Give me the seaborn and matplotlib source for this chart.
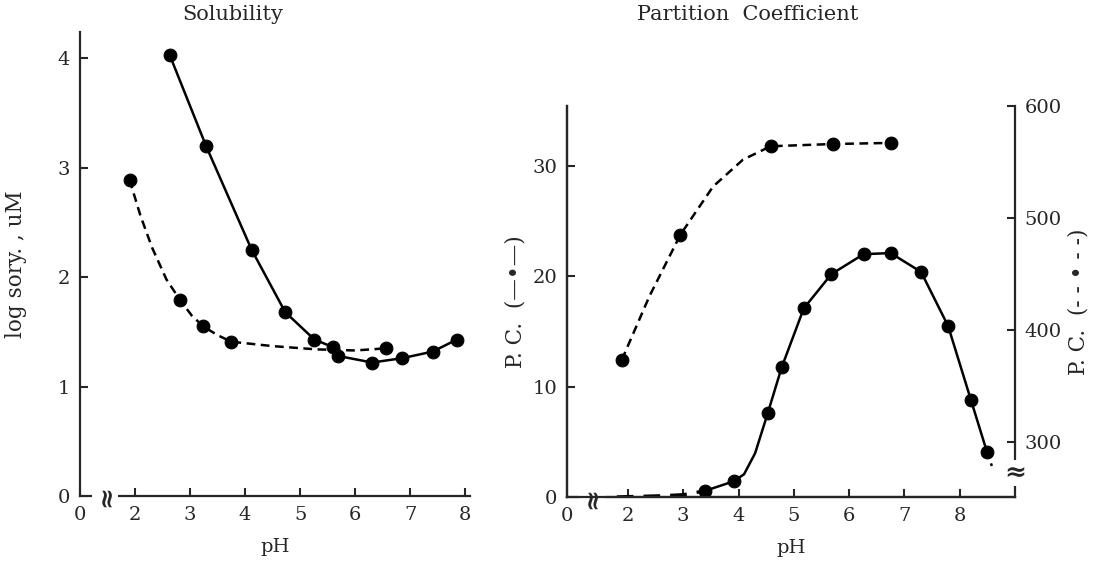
import numpy as np
import seaborn as sns
import matplotlib.pyplot as plt
import matplotlib.transforms as mtransforms

sns.set_style("ticks")
plt.rcParams['font.family'] = ['DejaVu Serif', 'DejaVu Sans']
plt.rcParams['axes.linewidth'] = 1.6

# Solubility panel (log sory., uM vs pH)
sol_solid_ph = [2.63, 3.29, 4.12, 4.73, 5.26, 5.60, 5.69, 6.31, 6.86, 7.41, 7.85]
sol_solid_val = [4.03, 3.20, 2.25, 1.68, 1.43, 1.36, 1.28, 1.22, 1.26, 1.32, 1.43]
sol_dash_ph = [1.90, 2.82, 3.24, 3.75, 6.57]
sol_dash_val = [2.89, 1.79, 1.55, 1.41, 1.35]
# dashed curve
sol_dash_curve_ph = [1.90, 2.10, 2.31, 2.57, 2.82, 3.03, 3.24, 3.50, 3.75, 4.5, 5.3, 6.0, 6.57]
sol_dash_curve_val = [2.89, 2.56, 2.27, 1.98, 1.79, 1.65, 1.55, 1.47, 1.41, 1.37, 1.34, 1.33, 1.35]

# Partition coefficient panel
pc_solid_ph = [3.39, 3.91, 4.53, 4.78, 5.18, 5.68, 6.26, 6.75, 7.30, 7.79, 8.20, 8.49]
pc_solid_val = [0.59, 1.46, 7.65, 11.76, 17.1, 20.2, 22.0, 22.1, 20.4, 15.5, 8.85, 4.15]
pc_solid_curve_ph = [3.39, 3.91, 4.10, 4.30, 4.53, 4.78, 5.18, 5.68, 6.26, 6.75, 7.30, 7.79, 8.20, 8.49]
pc_solid_curve_val = [0.59, 1.46, 2.1, 4.0, 7.65, 11.76, 17.1, 20.2, 22.0, 22.1, 20.4, 15.5, 8.85, 4.15]
pc_low_ph = [1.8, 2.6, 3.0, 3.39]
pc_low_val = [0.05, 0.15, 0.25, 0.59]
pc_tail_ph = [8.49, 8.58]
pc_tail_val = [4.15, 2.85]

pc_dash_ph = [1.89, 2.95, 4.58, 5.70, 6.76]
pc_dash_val = [373, 485, 564, 566, 567]
pc_dash_curve_ph = [1.89, 2.39, 2.95, 3.54, 4.08, 4.58, 5.70, 6.76]
pc_dash_curve_val = [373, 430, 485, 528, 552, 564, 566, 567]

sol_xticks = [2, 3, 4, 5, 6, 7, 8]
sol_yticks = [0, 1, 2, 3, 4]
pc_yticks = [0, 10, 20, 30]
pc_right_yticks = [300, 400, 500, 600]

fs = 14
dash = (3.5, 2.2)
lw = 1.8

fig = plt.figure(figsize=(10.93, 5.62), dpi=100)
ax1 = fig.add_axes([0.0732, 0.1174, 0.3564, 0.8256])
ax2 = fig.add_axes([0.5188, 0.1148, 0.4099, 0.6966])
ax3 = ax2.twinx()

# left panel
sns.lineplot(x=sol_solid_ph, y=sol_solid_val, ax=ax1, color='black', lw=lw)
sns.lineplot(x=sol_dash_curve_ph, y=sol_dash_curve_val, ax=ax1, color='black', lw=lw, linestyle=(0, dash))
sns.scatterplot(x=sol_solid_ph + sol_dash_ph, y=sol_solid_val + sol_dash_val, ax=ax1,
                color='black', s=85, edgecolor='black', zorder=3)

x0 = 1.0
ax1.set_xlim(x0, 8.08)
ax1.set_ylim(0, 4.24)
ax1.set_xticks([x0] + sol_xticks)
ax1.set_xticklabels(['0'] + [str(t) for t in sol_xticks])
ax1.xaxis.get_major_ticks()[0].tick1line.set_visible(False)
ax1.set_yticks(sol_yticks)
ax1.set_yticklabels([str(t) for t in sol_yticks])
ax1.yaxis.get_major_ticks()[0].tick1line.set_visible(False)
ax1.tick_params(direction='in', length=6, width=1.5, labelsize=fs, pad=7)
sns.despine(ax=ax1)
ax1.set_xlabel('pH', fontsize=fs, labelpad=10)
ax1.set_ylabel('log sory. , uM', fontsize=15.5, labelpad=22)
trans = mtransforms.blended_transform_factory(ax1.transData, ax1.transAxes)
ax1.text(1.46, 0, '≈', rotation=90, ha='center', va='center', fontsize=19, fontweight='bold',
         transform=trans, bbox=dict(facecolor='white', edgecolor='none', pad=0.3), clip_on=False)

# right panel
sns.lineplot(x=pc_solid_curve_ph, y=pc_solid_curve_val, ax=ax2, color='black', lw=lw)
sns.lineplot(x=pc_low_ph, y=pc_low_val, ax=ax2, color='black', lw=2.4, linestyle=(0, (5, 3)))
sns.lineplot(x=pc_tail_ph, y=pc_tail_val, ax=ax2, color='black', lw=lw, linestyle=(0, (3, 2)))
sns.scatterplot(x=pc_solid_ph, y=pc_solid_val, ax=ax2, color='black', s=85, edgecolor='black', zorder=3)

sns.lineplot(x=pc_dash_curve_ph, y=pc_dash_curve_val, ax=ax3, color='black', lw=lw, linestyle=(0, dash))
sns.scatterplot(x=pc_dash_ph, y=pc_dash_val, ax=ax3, color='black', s=85, edgecolor='black', zorder=3)

x0r = 0.9
ax2.set_xlim(x0r, 9.0)
ax2.set_ylim(0, 35.4)
ax3.set_ylim(250, 600)
ax2.set_xticks([x0r] + sol_xticks)
ax2.set_xticklabels(['0'] + [str(t) for t in sol_xticks])
ax2.xaxis.get_major_ticks()[0].tick1line.set_visible(False)
ax2.set_yticks(pc_yticks)
ax2.set_yticklabels([str(t) for t in pc_yticks])
ax2.yaxis.get_major_ticks()[0].tick1line.set_visible(False)
ax3.set_yticks(pc_right_yticks)
ax3.set_yticklabels([str(t) for t in pc_right_yticks])
for a in (ax2, ax3):
    a.tick_params(direction='in', length=6, width=1.5, labelsize=fs, pad=7)
    a.spines['top'].set_visible(False)
ax2.spines['right'].set_visible(False)
ax3.spines['right'].set_linewidth(1.6)
ax2.set_xlabel('pH', fontsize=fs, labelpad=10)
ax2.set_ylabel('P. C.  (—•—)', fontsize=15.5, labelpad=4)
ax3.set_ylabel('P. C.  (- - • - -)', fontsize=15.5, labelpad=4)

trans2 = mtransforms.blended_transform_factory(ax2.transData, ax2.transAxes)
ax2.text(1.35, 0, '≈', rotation=90, ha='center', va='center', fontsize=19, fontweight='bold',
         transform=trans2, bbox=dict(facecolor='white', edgecolor='none', pad=0.3), clip_on=False)
trans3 = mtransforms.blended_transform_factory(ax3.transAxes, ax3.transData)
ax3.text(1.0, 272, '≈', ha='center', va='center', fontsize=19, fontweight='bold',
         transform=trans3, bbox=dict(facecolor='white', edgecolor='none', pad=0.3), clip_on=False)

fig.text(233 / 1093, 1 - 15 / 562, 'Solubility', ha='center', va='center', fontsize=15)
fig.text(748 / 1093, 1 - 15 / 562, 'Partition  Coefficient', ha='center', va='center', fontsize=15)

fig.savefig('out.png', dpi=100)
